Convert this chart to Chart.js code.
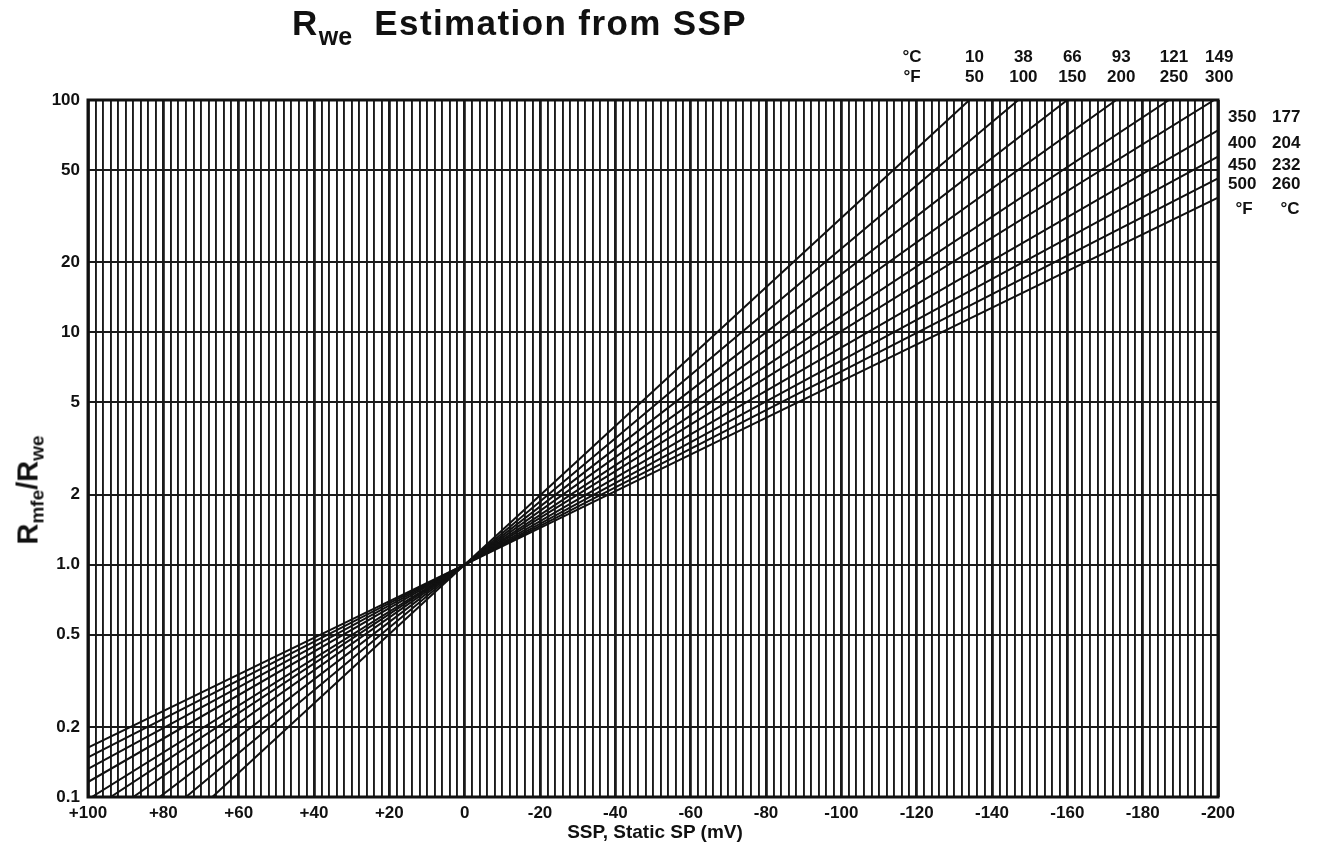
<!DOCTYPE html>
<html>
<head>
<meta charset="utf-8">
<script src="https://cdn.jsdelivr.net/npm/chart.js@4"></script>
<style>
  body { margin: 0; background: #fff; }
  #wrap { position: relative; width: 1317px; height: 844px; font-family: "Liberation Sans", Arial, sans-serif; color: #111; }
  #main-title { position: absolute; left: 292px; top: 3px; font-size: 35px; font-weight: bold; letter-spacing: 1.4px; white-space: nowrap; }
  #main-title sub { font-size: 25px; vertical-align: -10px; letter-spacing: 0; }
  #y-title { position: absolute; left: 30px; top: 490px; transform: translate(-50%, -50%) rotate(-90deg); font-size: 29px; font-weight: bold; white-space: nowrap; }
  #y-title sub { font-size: 19px; vertical-align: -6px; }
  #x-title { position: absolute; left: 655px; top: 821px; transform: translateX(-50%); font-size: 19px; font-weight: bold; white-space: nowrap; }
</style>
</head>
<body>
<div id="wrap">
  <canvas id="rwe-chart" width="1317" height="844"></canvas>
  <div id="main-title">R<sub>we</sub>&nbsp; Estimation from SSP</div>
  <div id="y-title">R<sub>mfe</sub>/R<sub>we</sub></div>
  <div id="x-title">SSP, Static SP (mV)</div>
</div>
<script>
const tempsF = [50, 100, 150, 200, 250, 300, 350, 400, 450, 500];
const tempsC = [10, 38, 66, 93, 121, 149, 177, 204, 232, 260];
const startSSP = [67, 74, 81, 88, 94, 99, 100, 100, 100, 100];
const startRatio = [0.1, 0.1, 0.1, 0.1, 0.1, 0.1, 0.116, 0.132, 0.148, 0.163];
const endSSP = [-134, -147, -160, -173, -187, -199, -200, -200, -200, -200];
const endRatio = [100, 100, 100, 100, 100, 100, 74, 57, 46, 38];

const yTicks = [0.1, 0.2, 0.5, 1, 2, 5, 10, 20, 50, 100];
const yTickLabels = ['0.1', '0.2', '0.5', '1.0', '2', '5', '10', '20', '50', '100'];

const datasets = tempsF.map((t, i) => ({
    label: t + ' °F',
    data: [
        { x: startSSP[i], y: startRatio[i] },
        { x: 0, y: 1 },
        { x: endSSP[i], y: endRatio[i] }
    ],
    showLine: true,
    borderColor: '#111',
    borderWidth: 2,
    pointRadius: 0,
    tension: 0
}));

const labelFont = 'bold 17px "Liberation Sans", Arial, sans-serif';

const frameAndLabels = {
    id: 'frameAndLabels',
    afterDraw(chart) {
        const { ctx, chartArea: a, scales } = chart;
        ctx.save();
        ctx.strokeStyle = '#111';
        ctx.lineWidth = 3;
        ctx.strokeRect(a.left, a.top, a.right - a.left, a.bottom - a.top);

        ctx.fillStyle = '#111';
        ctx.font = labelFont;
        ctx.textAlign = 'center';
        ctx.textBaseline = 'middle';
        // top labels for lines that leave through the top edge
        ctx.fillText('°C', 912, 57);
        ctx.fillText('°F', 912, 77);
        tempsF.forEach((t, i) => {
            if (endRatio[i] >= 100) {
                const px = scales.x.getPixelForValue(endSSP[i]) + 5;
                ctx.fillText(String(tempsC[i]), px, 57);
                ctx.fillText(String(t), px, 77);
            }
        });
        // right labels for lines that leave through the right edge
        let lastY = 0;
        ctx.textAlign = 'left';
        tempsF.forEach((t, i) => {
            if (endRatio[i] < 100) {
                const py = scales.y.getPixelForValue(endRatio[i]) - 13;
                ctx.fillText(String(t), a.right + 10, py);
                ctx.fillText(String(tempsC[i]), a.right + 54, py);
                lastY = py;
            }
        });
        ctx.textAlign = 'center';
        ctx.fillText('°F', a.right + 26, lastY + 25);
        ctx.fillText('°C', a.right + 72, lastY + 25);
        ctx.restore();
    }
};

new Chart(document.getElementById('rwe-chart'), {
    type: 'scatter',
    data: { datasets: datasets },
    options: {
        responsive: false,
        animation: false,
        layout: { padding: { top: 100, right: 99, left: 0, bottom: 0 } },
        plugins: { legend: { display: false }, tooltip: { enabled: false } },
        scales: {
            x: {
                type: 'linear',
                min: -200,
                max: 100,
                reverse: true,
                afterFit: s => { s.height = 47; },
                border: { display: false },
                grid: {
                    color: '#1a1a1a',
                    lineWidth: c => (c.tick && c.tick.value % 20 === 0) ? 2.8 : 1.9,
                    drawTicks: false
                },
                ticks: {
                    stepSize: 2,
                    autoSkip: false,
                    maxRotation: 0,
                    padding: 6,
                    color: '#111',
                    font: { family: '"Liberation Sans", Arial, sans-serif', size: 17, weight: 'bold' },
                    callback: v => (v % 20 !== 0) ? '' : (v > 0 ? '+' + v : String(v))
                }
            },
            y: {
                type: 'logarithmic',
                min: 0.1,
                max: 100,
                afterFit: s => { s.width = 88; },
                afterBuildTicks: s => { s.ticks = yTicks.map(v => ({ value: v })); },
                border: { display: false },
                grid: { color: '#1a1a1a', lineWidth: 2, drawTicks: false },
                ticks: {
                    autoSkip: false,
                    padding: 8,
                    color: '#111',
                    font: { family: '"Liberation Sans", Arial, sans-serif', size: 17, weight: 'bold' },
                    callback: (v, i) => yTickLabels[yTicks.indexOf(v)] || ''
                }
            }
        }
    },
    plugins: [frameAndLabels]
});
</script>
</body>
</html>
